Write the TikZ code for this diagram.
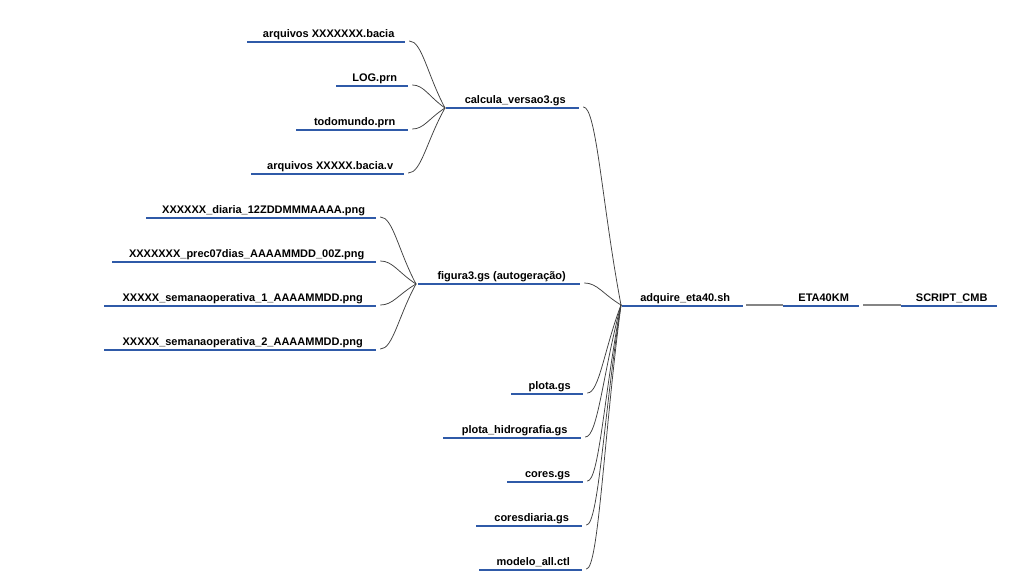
\documentclass[tikz,border=0pt]{standalone}
\usepackage{fontspec}
\setmainfont{Liberation Sans}
\usetikzlibrary{calc}
\definecolor{ulblue}{RGB}{47,90,168}
\begin{document}
\begin{tikzpicture}[x=1pt,y=-1pt,
  topic/.style={anchor=south west, inner sep=0pt, text height=8pt, text depth=4pt,
    font=\bfseries\fontsize{11}{13}\selectfont, execute at begin node={\hspace*{5pt}}},
  uline/.style={draw=ulblue, line width=1.2pt},
  link/.style={draw=black!75, line width=0.75pt, line cap=round},
  bridge/.style={draw=black!48, line width=2pt},
  % short horizontal hook at the start, then a nearly straight run into the target
  fan/.style={to path={let \p1=(\tikztostart), \p2=(\tikztotarget) in
    .. controls ({0.65*\x1+0.35*\x2},\y1) and ({0.5*\x1+0.5*\x2},{0.5*\y1+0.5*\y2}) .. (\tikztotarget)}}
]
\fill[white] (0,0) rectangle (1031,580);
\useasboundingbox (0,0) rectangle (1031,580);

% inputs of calcula_versao3.gs
\node[topic, minimum width=158] (bacia)  at (247,42)  {arquivos XXXXXXX.bacia};
\node[topic, minimum width=72]  (log)    at (336,86)  {LOG.prn};
\node[topic, minimum width=112] (todo)   at (296,130) {todomundo.prn};
\node[topic, minimum width=153] (baciav) at (251,174) {arquivos XXXXX.bacia.v};
\node[topic, minimum width=133] (calc)   at (446,108) {calcula\_versao3.gs};

% outputs of figura3.gs
\node[topic, minimum width=230] (diaria) at (146,218) {XXXXXX\_diaria\_12ZDDMMMAAAA.png};
\node[topic, minimum width=264] (prec)   at (112,262) {XXXXXXX\_prec07dias\_AAAAMMDD\_00Z.png};
\node[topic, minimum width=272] (sem1)   at (104,306) {XXXXX\_semanaoperativa\_1\_AAAAMMDD.png};
\node[topic, minimum width=272] (sem2)   at (104,350) {XXXXX\_semanaoperativa\_2\_AAAAMMDD.png};
\node[topic, minimum width=162] (fig)    at (418,284) {figura3.gs (autogeração)};

% main chain
\node[topic, minimum width=121] (root) at (622,306) {adquire\_eta40.sh};
\node[topic, minimum width=76]  (eta)  at (783,306) {ETA40KM};
\node[topic, minimum width=96]  (cmb)  at (901,306) {SCRIPT\_CMB};

% helper scripts
\node[topic, minimum width=72]  (plota)  at (511,394) {plota.gs};
\node[topic, minimum width=138] (hidro)  at (443,438) {plota\_hidrografia.gs};
\node[topic, minimum width=76]  (cores)  at (507,482) {cores.gs};
\node[topic, minimum width=106] (coresd) at (476,526) {coresdiaria.gs};
\node[topic, minimum width=103] (modelo) at (479,570) {modelo\_all.ctl};

% underlines
\foreach \n in {bacia,log,todo,baciav,calc,diaria,prec,sem1,sem2,fig,root,eta,cmb,plota,hidro,cores,coresd,modelo}
  \draw[uline] (\n.south west) -- (\n.south east);

% curved links
\foreach \n in {bacia,log,todo,baciav}
  \draw[link] ([xshift=4,yshift=1]\n.south east) to[fan] ([xshift=-1]calc.south west);
\foreach \n in {diaria,prec,sem1,sem2}
  \draw[link] ([xshift=4,yshift=1]\n.south east) to[fan] ([xshift=-2]fig.south west);
\foreach \n in {calc,fig,plota,hidro,cores,coresd,modelo}
  \draw[link] ([xshift=4,yshift=1]\n.south east) to[fan] ([xshift=-1,yshift=1]root.south west);

% straight links along the chain
\draw[bridge] ([xshift=3,yshift=1.5]root.south east) -- ([yshift=1.5]eta.south west);
\draw[bridge] ([xshift=4,yshift=1.5]eta.south east) -- ([yshift=1.5]cmb.south west);
\end{tikzpicture}
\end{document}
